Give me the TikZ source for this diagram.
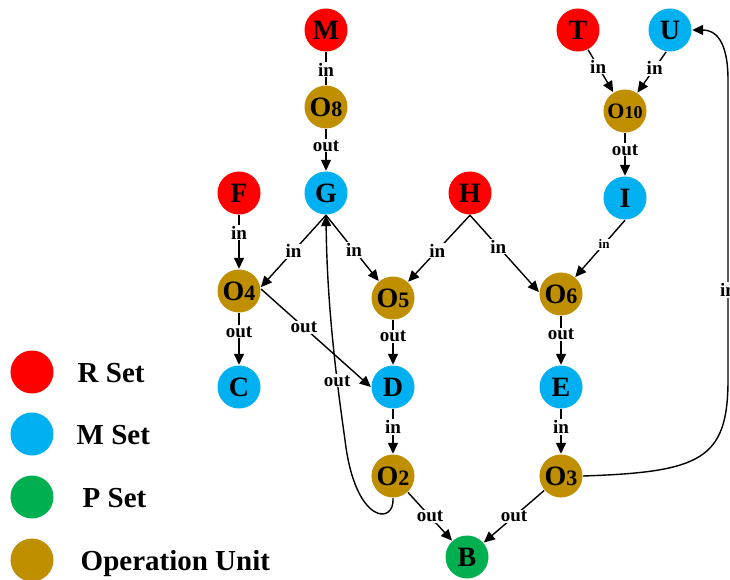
\documentclass[tikz,border=0pt]{standalone}
\usepackage{fontspec}
\setmainfont{Liberation Serif}
\usetikzlibrary{arrows.meta}
\definecolor{rred}{RGB}{255,0,0}
\definecolor{mblue}{RGB}{0,176,240}
\definecolor{pgreen}{RGB}{0,176,80}
\definecolor{ogold}{RGB}{191,143,0}
\newcommand{\onum}[1]{O{\fontsize{22bp}{22bp}\selectfont #1}}

\begin{document}
\begin{tikzpicture}[x=1bp,y=-1bp,line width=1.4bp,
  set/.style={circle,minimum size=43bp,inner sep=0pt,font=\bfseries\fontsize{28bp}{28bp}\selectfont},
  rset/.style={set,fill=rred},
  mset/.style={set,fill=mblue},
  pset/.style={set,fill=pgreen},
  opunit/.style={set,fill=ogold},
  lbl/.style={fill=white,inner sep=1bp,font=\bfseries\fontsize{19bp}{19bp}\selectfont},
  arr/.style={-{Triangle[length=11bp,width=10bp]}}]
\useasboundingbox (0,0) rectangle (730,580);
%draw legend
\foreach \y/\s/\t/\x in {372/rset/R Set/77, 434/mset/M Set/76, 497/pset/P Set/82, 560/opunit/Operation Unit/80}{
\node[\s] (key-\s) at (32,\y) {};
\node[anchor=base west,inner sep=0pt,font=\bfseries\fontsize{29bp}{29bp}\selectfont] (txt-\s) at (\x,\y+10) {\t}; }
%draw nodes
\node[rset] (M) at (326,30) {M};
\node[opunit] (O8) at (326,107) {\onum{8}};
\node[mset] (G) at (326,193) {G};
\node[rset] (F) at (239,193) {F};
\node[rset] (H) at (470,193) {H};
\node[rset] (T) at (578,30) {T};
\node[mset] (U) at (670,30) {U};
\node[opunit,font=\bfseries\fontsize{22bp}{22bp}\selectfont] (O10) at (625,111) {O{\fontsize{18bp}{18bp}\selectfont 10}};
\node[mset] (I) at (625,198) {I};
\node[opunit] (O4) at (239,291) {\onum{4}};
\node[opunit] (O5) at (393,298) {\onum{5}};
\node[opunit] (O6) at (561,294) {\onum{6}};
\node[mset] (C) at (239,387) {C};
\node[mset] (D) at (393,387) {D};
\node[mset] (E) at (561,387) {E};
\node[opunit] (O2) at (393,476) {\onum{2}};
\node[opunit] (O3) at (561,476) {\onum{3}};
\node[pset] (B) at (467,557) {B};
%draw edges
\draw (M) -- node[lbl,pos=0.53]{in} (O8);
\draw[arr] (O8) -- node[lbl,pos=0.4]{out} (G);
\draw[arr] (F) -- node[lbl,pos=0.33]{in} (O4);
\draw[arr] (G.south) -- node[lbl,pos=0.5]{in} (O4.10);
\draw[arr] (G.south) -- node[lbl,pos=0.53]{in} (O5.130);
\draw[arr] (H.south) -- node[lbl,pos=0.53]{in} (O5.47);
\draw[arr] (H.south) -- node[lbl,pos=0.41]{in} (O6.175);
\draw[arr] (T.-63) -- node[lbl,pos=0.4]{in} (O10.122);
\draw[arr] (U.-100) -- node[lbl,pos=0.4]{in} (O10.56);
\draw[arr] (O10) -- node[lbl,pos=0.39]{out} (I);
\draw[arr] (I.south) -- node[lbl,pos=0.42,font=\bfseries\fontsize{13bp}{13bp}\selectfont]{in} (O6.50);
\draw[arr] (O4) -- node[lbl,pos=0.36]{out} (C);
\draw[arr] (O4.5) -- node[lbl,pos=0.39]{out} (D.west);
\draw[arr] (O5) -- node[lbl,pos=0.36]{out} (D);
\draw[arr] (O6) -- node[lbl,pos=0.38]{out} (E);
\draw[arr] (D) -- node[lbl,pos=0.4]{in} (O2);
\draw[arr] (E) -- node[lbl,pos=0.4]{in} (O3);
\draw[arr] (O2) -- node[lbl]{out} (B);
\draw[arr] (O3) -- node[lbl]{out} (B);
%feedback edges
\draw[arr] (O2.south) .. controls (395,525) and (355,525) .. (345,440)
  .. controls (335,370) and (327,300) .. (G.south) node[lbl,pos=0.28]{out};
\draw[arr] (O3.east) .. controls (700,472) and (728,460) .. (728,380)
  -- node[lbl,pos=0.3]{in} (728,80) .. controls (728,40) and (715,30) .. (U.east);
\end{tikzpicture}
\end{document}
